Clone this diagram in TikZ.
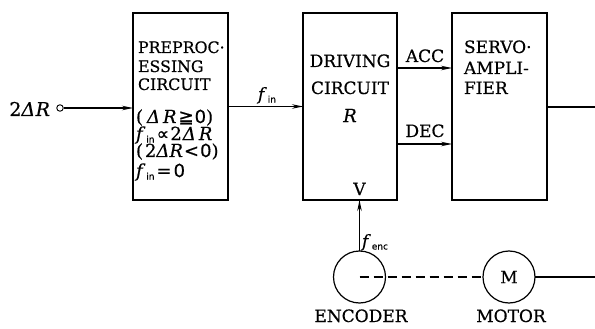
\documentclass[tikz,border=0pt]{standalone}
\usepackage{fontspec}
\setmainfont{DejaVu Serif}[FakeBold=0.45]
\newfontfamily\symf{DejaVu Sans}[FakeBold=0.45]
\usetikzlibrary{arrows.meta}
\newcommand{\fsub}[1]{\textit{f}\kern1pt\raisebox{-2.5pt}{\symf\fontsize{9}{9}\selectfont #1}}
\newcommand{\dR}{\textit{Δ}}
\tikzset{
  blk/.style={draw, line width=1.5pt, rectangle, inner sep=0pt, outer sep=0pt},
  wheel/.style={draw, line width=1.2pt, circle, inner sep=0pt, outer sep=0pt, minimum size=52pt},
  arr/.style={line width=1.1pt, -{Stealth[length=11pt,width=4.5pt]}},
  ln/.style={line width=1.1pt},
  lbl/.style={inner sep=0pt, outer sep=0pt},
  big/.style={font=\fontsize{17}{17}\selectfont},
  mid/.style={font=\fontsize{15.8}{15.8}\selectfont},
  mth/.style={font=\fontsize{18}{18}\selectfont},
  inl/.style={font=\fontsize{19}{19}\selectfont},
}
\begin{document}
\begin{tikzpicture}[x=1pt,y=-1pt]
\useasboundingbox (0,0) rectangle (595,329);
% blocks
\node[blk, minimum width=95pt, minimum height=187pt] (pre) at (180.5,106.5) {};
\node[blk, minimum width=94pt, minimum height=187pt] (drv) at (350,106.5) {};
\node[blk, minimum width=95pt, minimum height=187pt] (srv) at (499.5,106.5) {};
\node[wheel] (enc) at (359.5,277) {};
\node[wheel, big] (mot) at (509,277) {M};
\node[draw, circle, line width=0.9pt, minimum size=6.5pt, inner sep=0pt] (in) at (60,108) {};
\coordinate (acc) at (0,68);
\coordinate (dec) at (0,144);
\coordinate (out1) at (595,107);
\coordinate (out2) at (595,277);
% connectors
\draw[arr] (in.east) -- (in.east -| pre.west);
\draw[arr] (pre.east) -- (drv.west);
\draw[arr] (drv.east |- acc) -- (srv.west |- acc);
\draw[arr] (drv.east |- dec) -- (srv.west |- dec);
\draw[ln] (srv.east |- out1) -- (out1);
\draw[arr] (enc.north) -- (enc.north |- drv.south);
\draw[ln, dash pattern=on 9pt off 5pt] (enc.center) -- (mot.west);
\draw[ln] (mot.east) -- (out2);
% labels
\node[lbl, inl, anchor=base east] (lin) at (50,116) {2\dR\kern0.5pt\textit{R}};
\node[lbl, big, anchor=base] (lfin) at (267,100) {\fsub{in}};
\node[lbl, big, anchor=base] (lacc) at (425,62) {ACC};
\node[lbl, big, anchor=base] (ldec) at (425,137) {DEC};
\node[lbl, big, anchor=base] (lv) at (359.5,195) {V};
\node[lbl, big, anchor=base west] (lfenc) at (362,247) {\fsub{enc}};
\node[lbl, big, anchor=base] (lenc) at (361,322) {ENCODER};
\node[lbl, big, anchor=base] (lmot) at (511,322) {MOTOR};
% driving
\node[lbl, big, anchor=base] (d1) at (350,67) {DRIVING};
\node[lbl, big, anchor=base] (d2) at (350,94) {CIRCUIT};
\node[lbl, mth, anchor=base] (d3) at (350,122) {\textit{R}};
% servo
\node[lbl, big, anchor=base west] (s1) at (464,53) {SERVO·};
\node[lbl, big, anchor=base west] (s2) at (464,74) {AMPLI-};
\node[lbl, big, anchor=base west] (s3) at (464,94) {FIER};
% preprocessing
\node[lbl, mid, anchor=base west] (p1) at (138,53) {PREPROC·};
\node[lbl, mid, anchor=base west] (p2) at (138,72) {ESSING};
\node[lbl, mid, anchor=base west] (p3) at (138,90) {CIRCUIT};
\node[lbl, mth, anchor=base west] (p4) at (136,123) {(\kern4pt\dR\kern3pt\textit{R}\kern2pt{\symf ≧}\kern1pt{\symf 0})};
\node[lbl, mth, anchor=base west] (p5) at (136,140) {\fsub{in}\kern2pt{\symf ∝}\kern1pt2\kern1pt\dR\kern3pt\textit{R}};
\node[lbl, mth, anchor=base west] (p6) at (136,157) {(\kern2pt2\dR\textit{R}\kern1pt{\symf <}\kern1pt{\symf 0})};
\node[lbl, mth, anchor=base west] (p7) at (136,177) {\fsub{in}\kern2pt{\symf =}\kern2pt{\symf 0}};
\end{tikzpicture}
\end{document}
